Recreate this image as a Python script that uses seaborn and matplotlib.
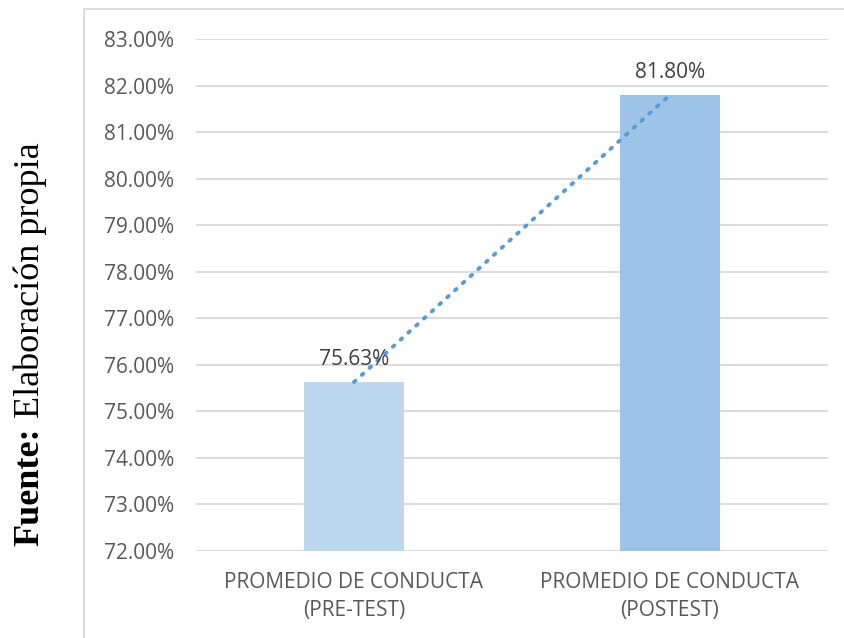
import matplotlib
matplotlib.use("Agg")
import matplotlib.pyplot as plt
import seaborn as sns
import pandas as pd
from matplotlib.lines import Line2D
from matplotlib.ticker import FuncFormatter

categories = ["PROMEDIO DE CONDUCTA\n(PRE-TEST)", "PROMEDIO DE CONDUCTA\n(POSTEST)"]
values = [75.63, 81.80]
labels = ["75.63%", "81.80%"]
colors = ["#BDD7EE", "#9DC3E6"]

sns.set_theme(style="white")
plt.rcParams['font.family'] = ['Open Sans', 'DejaVu Sans']

df = pd.DataFrame({"cat": categories, "val": values})

fig = plt.figure(figsize=(8.45, 6.38), dpi=100)
ax = fig.add_axes([196/845, 1-551/638, (828-196)/845, (551-39)/638])

sns.barplot(data=df, x="cat", y="val", hue="cat", palette=colors, width=0.316,
            ax=ax, legend=False, saturation=1)
for p in ax.patches:
    p.set_zorder(3)
    p.set_edgecolor("none")

ax.set_ylim(72, 83)
ax.set_xlim(-0.5, 1.5)
ax.set_yticks([72 + i for i in range(12)])
ax.yaxis.set_major_formatter(FuncFormatter(lambda v, _: f"{v:.2f}%"))
ax.grid(axis="y", color="#D9D9D9", linewidth=1.3, zorder=0)
ax.set_axisbelow(True)
for s in ax.spines.values():
    s.set_visible(False)
ax.tick_params(axis="both", length=0, colors="#595959", labelsize=15)
ax.tick_params(axis="y", pad=16)
ax.tick_params(axis="x", pad=15)
ax.set_xlabel("")
ax.set_ylabel("")
for t in ax.get_xticklabels():
    t.set_linespacing(1.45)

# trendline (dotted) through bar tops
ax.plot([0, 1], values, linestyle=(0, (0.5, 2.2)), color="#5B9BD5", linewidth=2.8,
        dash_capstyle="round", solid_capstyle="round", zorder=4)

for i, (v, lab) in enumerate(zip(values, labels)):
    ax.annotate(lab, (i, v), xytext=(0, 16), textcoords="offset points",
                ha="center", va="center", fontsize=15, color="#404040", zorder=5)

# chart border lines
fig.add_artist(Line2D([84/845, 84/845], [0, 1-9/638], transform=fig.transFigure,
                      color="#D9D9D9", linewidth=1.3))
fig.add_artist(Line2D([84/845, 1], [1-9/638, 1-9/638], transform=fig.transFigure,
                      color="#D9D9D9", linewidth=1.3))

# rotated source label with mixed weights
fs = 26
fig.canvas.draw()
r = fig.canvas.get_renderer()
t1 = fig.text(30/845, 0, "Fuente:", rotation=90, ha="center", va="bottom",
              fontsize=fs, fontweight="bold", family="Liberation Serif", color="black")
t2 = fig.text(30/845, 0, " Elaboración propia", rotation=90, ha="center", va="bottom",
              fontsize=fs, family="Liberation Serif", color="black")
h1 = t1.get_window_extent(r).height
h2 = t2.get_window_extent(r).height
total = h1 + h2
center = 638 - 344
start = center - total / 2
t1.set_y(start / 638)
t2.set_y((start + h1) / 638)

fig.savefig("out.png", dpi=100)
